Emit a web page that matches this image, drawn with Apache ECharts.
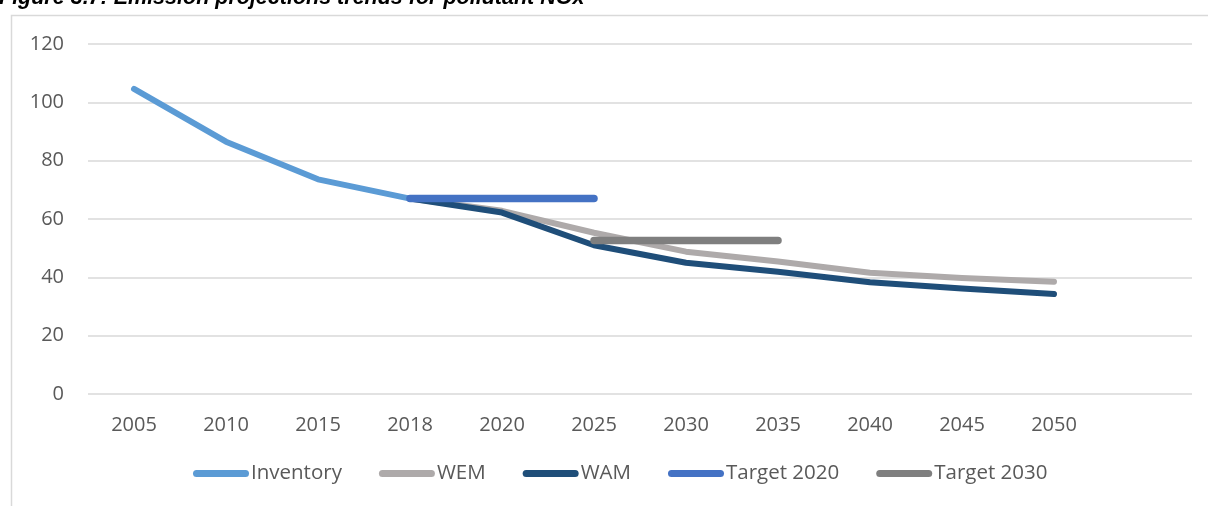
<!DOCTYPE html>
<html>
<head>
<meta charset="utf-8">
<script src="https://cdn.jsdelivr.net/npm/echarts@6/dist/echarts.min.js"></script>
<style>
  html, body { margin: 0; padding: 0; background: #ffffff; }
  #chart { width: 1208px; height: 506px; }
</style>
</head>
<body>
<div id="chart"></div>
<script>
// NOx emission projections (kt)
const years = ['2005', '2010', '2015', '2018', '2020', '2025', '2030', '2035', '2040', '2045', '2050', ''];
const inventory = [104.6, 86.5, 73.6, 67.0, null, null, null, null, null, null, null, null];
const wem = [null, null, null, 67.0, 62.8, 55.3, 48.8, 45.4, 41.6, 39.8, 38.5, null];
const wam = [null, null, null, 67.0, 62.2, 51.0, 45.0, 41.9, 38.3, 36.2, 34.3, null];
const target2020 = [null, null, null, 67.0, 67.0, 67.0, null, null, null, null, null, null];
const target2030 = [null, null, null, null, null, 52.6, 52.6, 52.6, null, null, null, null];
const yTicks = { min: 0, max: 120, interval: 20 };

const font = '"Open Sans", "Liberation Sans", sans-serif';

function lineSeries(name, data, color, width) {
  return {
    name: name,
    type: 'line',
    data: data,
    showSymbol: false,
    symbol: 'none',
    connectNulls: false,
    lineStyle: { color: color, width: width, cap: 'round', join: 'round' },
    itemStyle: { color: color },
    emphasis: { disabled: true },
    animation: false
  };
}

const chart = echarts.init(document.getElementById('chart'), null, { renderer: 'canvas' });
chart.setOption({
  backgroundColor: '#ffffff',
  animation: false,
  graphic: [
    {
      type: 'rect',
      shape: { x: 11.5, y: 15.5, width: 1300, height: 600 },
      style: { fill: 'none', stroke: '#d9d9d9', lineWidth: 1.5 },
      silent: true,
      z: -10
    },
    {
      type: 'text',
      left: -1,
      top: -13,
      style: {
        text: 'Figure 3.7: Emission projections trends for pollutant NOx',
        font: 'italic bold 21.5px "Liberation Sans", Arial, sans-serif',
        fill: '#000000'
      },
      silent: true
    }
  ],
  grid: { left: 88, right: 16, top: 44, bottom: 112, containLabel: false },
  legend: {
    bottom: 17,
    left: 188,
    itemWidth: 56,
    itemHeight: 7,
    itemGap: 37,
    icon: 'path://M3.5,0 L52.5,0 A3.5,3.5 0 0 1 52.5,7 L3.5,7 A3.5,3.5 0 0 1 3.5,0 Z',
    textStyle: { color: '#595959', fontSize: 20.5, fontFamily: font, padding: [0, 0, 0, -3] },
    data: ['Inventory', 'WEM', 'WAM', 'Target 2020', 'Target 2030']
  },
  xAxis: {
    type: 'category',
    data: years,
    boundaryGap: true,
    axisLine: { show: false },
    axisTick: { show: false },
    axisLabel: { color: '#595959', fontSize: 20, fontFamily: font, margin: 21 }
  },
  yAxis: {
    type: 'value',
    min: yTicks.min,
    max: yTicks.max,
    interval: yTicks.interval,
    axisLine: { show: false },
    axisTick: { show: false },
    axisLabel: { color: '#595959', fontSize: 20, fontFamily: font, margin: 24 },
    splitLine: { lineStyle: { color: '#d9d9d9', width: 1.5 } }
  },
  series: [
    lineSeries('Inventory', inventory, '#5b9bd5', 6),
    lineSeries('WEM', wem, '#aeaaaa', 6),
    lineSeries('WAM', wam, '#1f4e79', 6),
    lineSeries('Target 2020', target2020, '#4472c4', 7.5),
    lineSeries('Target 2030', target2030, '#7f7f7f', 7.5)
  ]
});
</script>
</body>
</html>
